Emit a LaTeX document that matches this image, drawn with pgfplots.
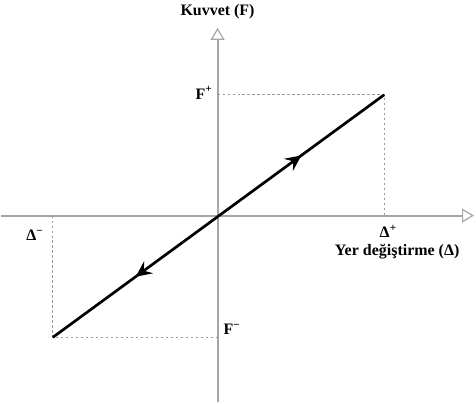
\documentclass[border=0pt]{standalone}
\usepackage{fontspec}
\setmainfont{Liberation Serif}
\usepackage{pgfplots}
\pgfplotsset{compat=1.18}
\usetikzlibrary{arrows.meta,decorations.markings}

\tikzset{lbl/.style={font=\fontsize{16}{19}\selectfont\bfseries, inner sep=1pt}}

\begin{document}
\begin{tikzpicture}
\begin{axis}[
  x=1pt, y=1pt,
  axis lines=middle,
  xmin=-217, xmax=257, ymin=-187, ymax=188,
  xtick=\empty, ytick=\empty,
  axis line style={draw=black!35, line width=2pt,
    -{Triangle[open, length=12pt, width=14pt, line width=1.2pt]}},
  clip=false,
]
% guide lines to the end points
\addplot[black!40, line width=0.9pt, dash pattern=on 2.5pt off 2.5pt]
  coordinates {(0,121) (167,121) (167,0)};
\addplot[black!40, line width=0.9pt, dash pattern=on 2.5pt off 2.5pt]
  coordinates {(-165,0) (-165,-122) (0,-122)};
% loading / unloading line
\addplot[black, line width=2.7pt, postaction={decorate},
  decoration={markings,
    mark=at position 0.75 with {\arrow{Stealth[length=16pt, width=15pt, inset=6pt]}},
    mark=at position 0.25 with {\arrowreversed{Stealth[length=16pt, width=15pt, inset=6pt]}}}]
  coordinates {(-165,-122) (167,121)};
% labels
\node[lbl] at (axis cs:0,204) {Kuvvet (F)};
\node[lbl, anchor=east] at (axis cs:-4,123) {F\textsuperscript{+}};
\node[lbl, anchor=west] at (axis cs:5,-114) {F\textsuperscript{−}};
\node[lbl] at (axis cs:171,-16) {Δ\textsuperscript{+}};
\node[lbl] at (axis cs:-183,-20) {Δ\textsuperscript{−}};
\node[lbl] at (axis cs:180,-36) {Yer değiştirme (Δ)};
\path (axis cs:-217,-187) (axis cs:259,216);
\end{axis}
\end{tikzpicture}
\end{document}
